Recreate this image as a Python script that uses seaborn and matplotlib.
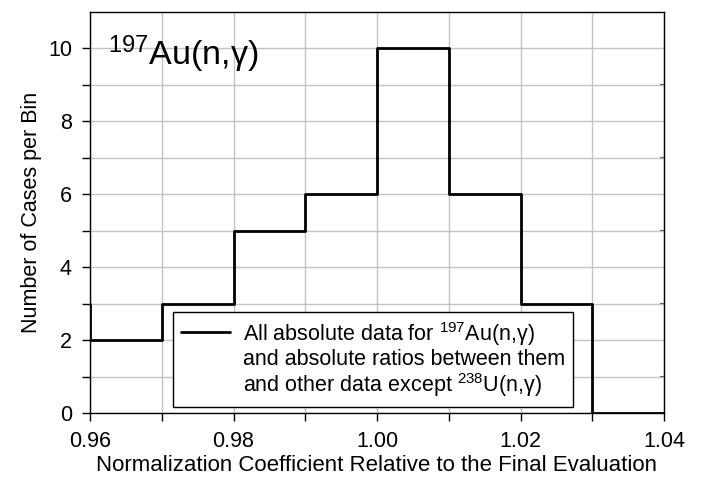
import matplotlib
matplotlib.use("Agg")
import matplotlib.pyplot as plt
from matplotlib.lines import Line2D
from matplotlib.legend_handler import HandlerLine2D
import numpy as np
import pandas as pd
import seaborn as sns

# bin edges and counts
bin_left = [0.95, 0.96, 0.97, 0.98, 0.99, 1.00, 1.01, 1.02, 1.03, 1.04]
counts = [3, 2, 3, 5, 6, 10, 6, 3, 0, 0]
legend_text = ("All absolute data for $^{197}$Au(n,γ)\n"
               "and absolute ratios between them\n"
               "and other data except $^{238}$U(n,γ)")

sns.set_style("white")
plt.rcParams['font.family'] = ['Liberation Sans', 'DejaVu Sans']
plt.rcParams['mathtext.fontset'] = 'custom'
plt.rcParams['mathtext.rm'] = 'Liberation Sans'
plt.rcParams['mathtext.it'] = 'Liberation Sans'
plt.rcParams['text.color'] = 'black'
plt.rcParams['axes.labelcolor'] = 'black'
plt.rcParams['xtick.color'] = 'black'
plt.rcParams['ytick.color'] = 'black'


class TopLineHandler(HandlerLine2D):
    # put the legend line next to the first text line
    def create_artists(self, legend, orig_handle, xdescent, ydescent, width,
                       height, fontsize, trans):
        artists = super().create_artists(legend, orig_handle, xdescent,
                                         ydescent, width, height, fontsize,
                                         trans)
        for a in artists:
            a.set_ydata(np.asarray(a.get_ydata()) + 20.5)
        return artists


df = pd.DataFrame({"coef": bin_left, "n": counts})

fig = plt.figure(figsize=(7.03, 4.91), dpi=100)
ax = fig.add_axes([90 / 703, 1 - 413 / 491, (664 - 90) / 703, (413 - 12) / 491])

sns.lineplot(data=df, x="coef", y="n", drawstyle="steps-post", color="black",
             linewidth=2, ax=ax, zorder=3, label=legend_text)

ax.set_xlim(0.96, 1.04)
ax.set_ylim(0, 11)
ax.set_xticks(np.arange(0.96, 1.041, 0.02))
ax.set_xticks(np.arange(0.97, 1.04, 0.02), minor=True)
ax.set_xticklabels(["0.96", "0.98", "1.00", "1.02", "1.04"])
ax.set_yticks(range(0, 11, 2))
ax.set_yticks(range(1, 11, 2), minor=True)
ax.grid(True, which="both", color="#c4c4c4", linewidth=1, zorder=0)
ax.set_axisbelow(True)
ax.tick_params(which="both", direction="out", length=6, width=1, color="black",
               labelcolor="black", bottom=True, left=True, labelsize=15.5, pad=7)
for s in ax.spines.values():
    s.set_color("black")
    s.set_linewidth(1)

# small inward ticks on the right frame
right = ax.secondary_yaxis("right")
right.set_yticks(range(1, 11, 2))
right.tick_params(direction="in", length=3, width=1.5, color="#444444",
                  labelright=False)
right.spines["right"].set_visible(False)

ax.set_xlabel("Normalization Coefficient Relative to the Final Evaluation",
              fontsize=16, labelpad=2, color="black")
ax.set_ylabel("Number of Cases per Bin", fontsize=15.5, labelpad=4,
              color="black")

ax.text(0.96 + 0.0025, 9.85, r"$^{\mathregular{197}}$Au(n,γ)", fontsize=24.5,
        ha="left", va="center", color="black")

handle = ax.get_lines()[0]
leg = ax.legend(handler_map={Line2D: TopLineHandler()},
                loc="lower center", bbox_to_anchor=(0.493, 0.015),
                fontsize=15.5, frameon=True, fancybox=False, handlelength=2.3,
                handletextpad=0.6, borderpad=0.35, borderaxespad=0)
leg.get_frame().set_edgecolor("black")
leg.get_frame().set_linewidth(1)
leg.get_frame().set_alpha(1)
for t in leg.get_texts():
    t.set_color("black")
    t.set_linespacing(1.08)

fig.savefig("out.png", dpi=100)
